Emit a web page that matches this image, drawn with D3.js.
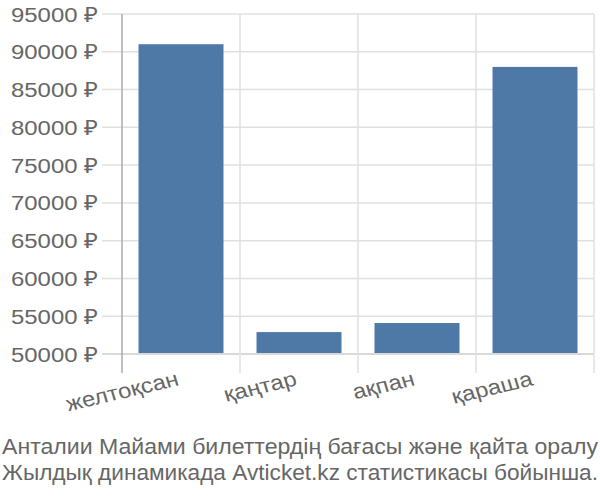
<!DOCTYPE html>
<html>
<head>
<meta charset="utf-8">
<script src="https://cdn.jsdelivr.net/npm/d3@7"></script>
<style>
  body { margin: 0; background: #fff; }
  text { font-family: "Liberation Sans", Arial, sans-serif; }
</style>
</head>
<body>
<script>
var months = ['желтоқсан', 'қаңтар', 'ақпан', 'қараша'];
var prices = [91000, 52900, 54100, 88000];
var yTicks = [50000, 55000, 60000, 65000, 70000, 75000, 80000, 85000, 90000, 95000];
var footer = [
  'Анталии Майами билеттердің бағасы және қайта оралу',
  'Жылдық динамикада Avticket.kz статистикасы бойынша.'
];

var width = 600, height = 500;
var mLeft = 122, mRight = 594, mTop = 14, mBottom = 354;
var stretch = 1.14; // the text in the picture is a bit wider than tall

var svg = d3.select('body')
  .append('svg')
  .attr('width', width)
  .attr('height', height);

var x = d3.scaleBand()
  .domain(months)
  .range([mLeft, mRight])
  .paddingInner(0.28)
  .paddingOuter(0.14);

var y = d3.scaleLinear()
  .domain([50000, 95000])
  .range([mBottom, mTop]);

// horizontal grid + tick marks
svg.selectAll('line.hgrid')
  .data(yTicks)
  .enter()
  .append('line')
  .attr('x1', mLeft - 20)
  .attr('x2', mRight)
  .attr('y1', function(d) { return y(d); })
  .attr('y2', function(d) { return y(d); })
  .attr('stroke', function(d) { return d === 50000 ? '#cccccc' : '#e0e0e0'; })
  .attr('stroke-width', 1.5);

// vertical grid at band edges
var edges = months.map(function(m) { return x(m) - x.step() * x.paddingInner() / 2 + x.step(); });
svg.selectAll('line.vgrid')
  .data(edges)
  .enter()
  .append('line')
  .attr('x1', function(d) { return d; })
  .attr('x2', function(d) { return d; })
  .attr('y1', mTop)
  .attr('y2', mBottom + 19)
  .attr('stroke', '#e0e0e0')
  .attr('stroke-width', 1.5);

// left axis line
svg.append('line')
  .attr('x1', mLeft).attr('x2', mLeft)
  .attr('y1', mTop).attr('y2', mBottom + 19)
  .attr('stroke', '#aaaaaa')
  .attr('stroke-width', 1.5);

// bars
svg.selectAll('rect.bar')
  .data(prices)
  .enter()
  .append('rect')
  .attr('x', function(d, i) { return x(months[i]); })
  .attr('width', x.bandwidth())
  .attr('y', function(d) { return y(d); })
  .attr('height', function(d) { return y(50000) - y(d) - 1; })
  .attr('fill', '#4e79a7');

// y labels
svg.selectAll('text.ylab')
  .data(yTicks)
  .enter()
  .append('text')
  .attr('transform', function(d) {
    return 'translate(' + (mLeft - 24) + ',' + y(d) + ') scale(' + stretch + ',1)';
  })
  .attr('dy', '0.36em')
  .attr('text-anchor', 'end')
  .attr('fill', '#666666')
  .style('font-size', '21px')
  .text(function(d) { return d + ' ₽'; });

// x labels
svg.selectAll('text.xlab')
  .data(months)
  .enter()
  .append('text')
  .attr('text-anchor', 'end')
  .attr('fill', '#666666')
  .style('font-size', '21px')
  .attr('transform', function(d) {
    return 'translate(' + (x(d) + x.bandwidth() / 2 - 1) + ',' + (mBottom + 31) + ') scale(' + stretch + ',1) rotate(-15)';
  })
  .text(function(d) { return d; });

// footer
svg.selectAll('text.footer')
  .data(footer)
  .enter()
  .append('text')
  .attr('x', 2)
  .attr('y', function(d, i) { return 454 + i * 26; })
  .attr('fill', '#666666')
  .attr('textLength', 596)
  .attr('lengthAdjust', 'spacingAndGlyphs')
  .style('font-size', '22px')
  .text(function(d) { return d; });
</script>
</body>
</html>
